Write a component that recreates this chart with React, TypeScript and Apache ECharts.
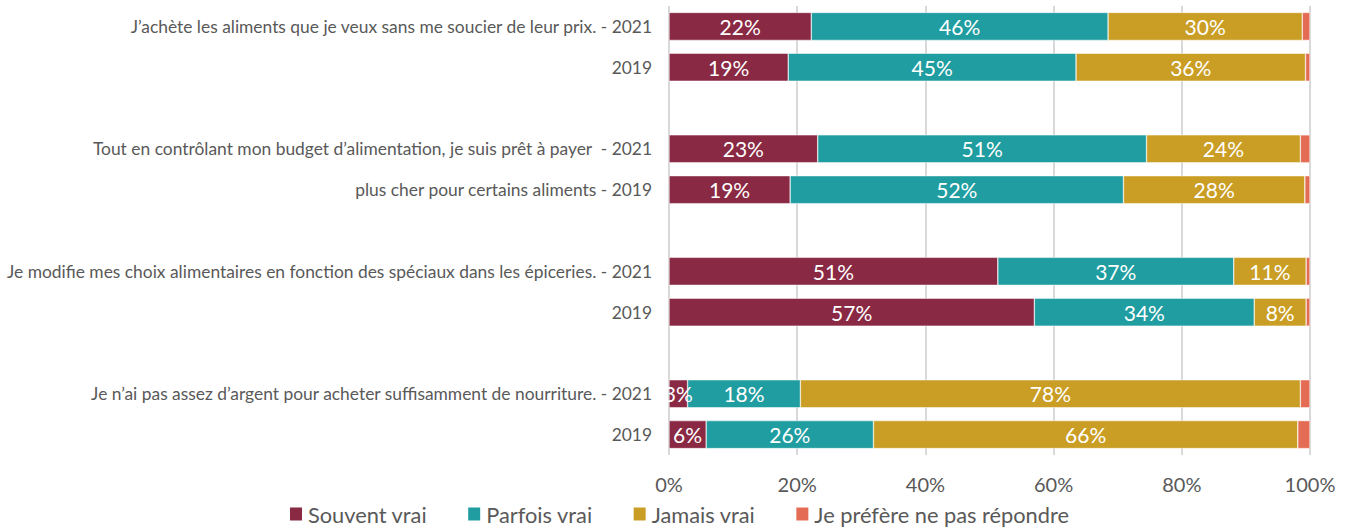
import React, { useEffect, useRef } from "react";
import * as echarts from "echarts";

const categories = [
  "J\u2019achète les aliments que je veux sans me soucier de leur prix. - 2021",
  "2019",
  "",
  "Tout en contrôlant mon budget d\u2019alimentation, je suis prêt à payer  - 2021",
  "plus cher pour certains aliments - 2019",
  " ",
  "Je modifie mes choix alimentaires en fonction des spéciaux dans les épiceries. - 2021",
  "2019 ",
  "  ",
  "Je n\u2019ai pas assez d\u2019argent pour acheter suffisamment de nourriture. - 2021",
  "2019  ",
];

const souvent = [22.2, 18.6, null, 23.2, 18.9, null, 51.3, 57.0, null, 2.9, 5.8];
const parfois = [46.3, 44.9, null, 51.3, 52.0, null, 36.8, 34.3, null, 17.6, 26.1];
const jamais = [30.3, 35.8, null, 24.0, 28.3, null, 11.3, 8.1, null, 78.0, 66.2];
const prefere = [1.2, 0.7, null, 1.5, 0.8, null, 0.6, 0.6, null, 1.5, 1.9];

const seriesNames = ["Souvent vrai", "Parfois vrai", "Jamais vrai", "Je préfère ne pas répondre"];
const colors = ["#8A2943", "#209DA0", "#CA9E24", "#E46C55"];
const xTicks = [0, 20, 40, 60, 80, 100];

const FONT = "Lato, sans-serif";

export default function App() {
  const ref = useRef<HTMLDivElement>(null);
  useEffect(() => {
    if (!ref.current) return;
    const chart = echarts.init(ref.current, undefined, { renderer: "svg" });
    const datas = [souvent, parfois, jamais, prefere];
    chart.setOption({
      animation: false,
      textStyle: { fontFamily: FONT },
      color: colors,
      grid: { left: 669, right: 42, top: 6, bottom: 74, containLabel: false },
      legend: {
        top: 503,
        left: 288,
        padding: 0,
        icon: "rect",
        itemWidth: 14,
        itemHeight: 15,
        itemGap: 39,
        textStyle: { color: "#595959", fontSize: 21.8, fontFamily: FONT },
        data: seriesNames,
      },
      xAxis: {
        type: "value",
        min: xTicks[0],
        max: xTicks[xTicks.length - 1],
        interval: 20,
        axisLine: { show: false },
        axisTick: { show: false },
        axisLabel: {
          formatter: "{value}%",
          color: "#595959",
          fontSize: 20,
          margin: 19,
          fontFamily: FONT,
        },
        splitLine: { lineStyle: { color: "#D9D9D9", width: 2 } },
      },
      yAxis: {
        type: "category",
        inverse: true,
        data: categories,
        axisLine: { show: false },
        axisTick: { show: false },
        axisLabel: {
          color: "#595959",
          fontSize: 17.4,
          margin: 17,
          fontFamily: FONT,
          formatter: (v: string) => v.trim(),
        },
      },
      series: datas.map((d, i) => ({
        name: seriesNames[i],
        type: "bar",
        stack: "total",
        barWidth: 28,
        data: d.map((v) => (v === null ? "-" : v)),
        itemStyle: { color: colors[i], borderColor: "#ffffff", borderWidth: 0.5 },
        label: {
          show: i < 3,
          position: "inside",
          color: "#ffffff",
          fontSize: 21,
          fontFamily: FONT,
          formatter: (p: any) => Math.round(p.value) + "%",
        },
      })),
    });
    return () => chart.dispose();
  }, []);
  return (
    <div
      ref={ref}
      style={{ position: "fixed", left: 0, top: 0, width: 1352, height: 529, background: "#fff" }}
    />
  );
}
